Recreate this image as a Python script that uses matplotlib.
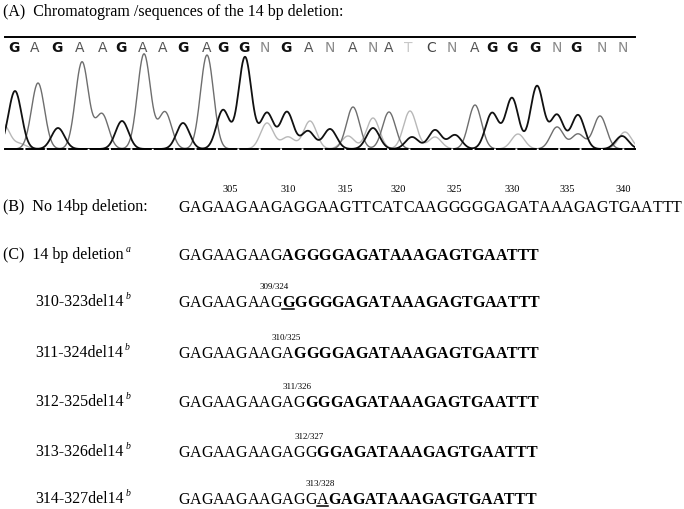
import numpy as np
import matplotlib.pyplot as plt
from matplotlib.font_manager import FontProperties, findfont, get_font

W, H = 684, 510

# ---- panel A: base calls and peak tables ----
base_calls = list("GAGAAGAAGAGGNGANANATCNAGGGNGNN")
base_x = [14, 35, 57, 80, 103, 121, 143, 163, 183, 207, 223, 244, 265, 286, 309,
          330, 353, 373, 389, 408, 431, 452, 475, 492, 512, 535, 557, 576, 602, 623]

# G channel (black trace)
g_peak_x = [15, 58, 122, 183, 223, 245, 267, 287, 308, 330, 373, 412, 435, 455,
            492, 512, 537, 557, 578, 622]
g_peak_h = [58, 21, 28, 26, 39, 92, 36, 37, 18, 20, 21, 12, 19, 14,
            36, 51, 63, 34, 34, 13]
# A channel (grey trace)
a_peak_x = [38, 82, 102, 144, 165, 207, 353, 389, 475, 557, 578, 600]
a_peak_h = [66, 87, 35, 95, 37, 94, 42, 37, 44, 22, 15, 33]
# C / T channels (light trace)
ct_peak_x = [3, 20, 267, 288, 310, 348, 373, 410, 435, 518, 625]
ct_peak_h = [25, 5, 26, 12, 28, 13, 31, 38, 12, 15, 17]

# ---- panel B: wild type sequence ----
wt_seq = "GAGAAGAAGAGGAAGTTCATCAAGGGGGAGATAAAGAGTGAATTT"
wt_start = 301
wt_ticks = [305, 310, 315, 320, 325, 330, 335, 340]

# ---- panel C: deletion alleles ----
del_labels = ["14 bp deletion", "310-323del14", "311-324del14",
              "312-325del14", "313-326del14", "314-327del14"]
del_notes = ["a", "b", "b", "b", "b", "b"]
del_seqs = ["GAGAAGAAGAGGGGAGATAAAGAGTGAATTT",
            "GAGAAGAAGGGGGGAGATAAAGAGTGAATTT",
            "GAGAAGAAGAGGGGAGATAAAGAGTGAATTT",
            "GAGAAGAAGAGGGGAGATAAAGAGTGAATTT",
            "GAGAAGAAGAGGGGAGATAAAGAGTGAATTT",
            "GAGAAGAAGAGGAGAGATAAAGAGTGAATTT"]
bold_from = [9, 9, 10, 11, 12, 13]
underline_at = [None, 9, None, None, None, 12]
site_pos = [None, 309, 310, 311, 312, 313]

SERIF = "Liberation Serif"
SEQ_PT = 11.5


def advance(ch, weight, size):
    font = get_font(findfont(FontProperties(family=SERIF, weight=weight)))
    font.set_size(size, 100)
    return font.load_char(ord(ch)).linearHoriAdvance / 65536


def draw_sequence(ax, x0, y, seq, bold_start=None, underline=None):
    # place the bases one by one so that each base centre is known
    centres = []
    x = x0
    base = y + 0.33 * SEQ_PT * 100 / 72
    for i, ch in enumerate(seq):
        weight = "bold" if bold_start is not None and i >= bold_start else "normal"
        w = advance(ch, weight, SEQ_PT)
        ax.text(x + w / 2, base, ch, ha="center", va="baseline",
                family=SERIF, weight=weight, fontsize=SEQ_PT)
        if i == underline:
            ax.plot([x + 0.5, x + w - 0.5], [base + 2.5, base + 2.5], color="black", lw=1.1)
        centres.append(x + w / 2)
        x += w
    return centres


fig = plt.figure(figsize=(W / 100, H / 100), dpi=100)

# chromatogram axes: baseline at y=150 px, top rule at y=38 px
ax_c = fig.add_axes([5 / W, 1 - 150 / H, 630 / W, 112 / H])
scan = np.arange(0, 636, 0.5)
sigma = 6.5


def trace(px, ph):
    y = np.zeros_like(scan)
    for p, h in zip(px, ph):
        y += h * np.exp(-(scan - p) ** 2 / (2 * sigma ** 2))
    return y


ax_c.plot(scan, trace(ct_peak_x, ct_peak_h), color="#b8b8b8", lw=1.0)
ax_c.plot(scan, trace(a_peak_x, a_peak_h), color="#6e6e6e", lw=1.0)
ax_c.plot(scan, trace(g_peak_x, g_peak_h), color="#111111", lw=1.3)

call_colors = {"G": "#111111", "A": "#555555", "N": "#8a8a8a", "T": "#c8c8c8", "C": "#444444"}
for b, bx in zip(base_calls, base_x):
    ax_c.text(bx, 102, b, ha="center", va="center", fontsize=10,
              family=["Liberation Sans Narrow", "DejaVu Sans"],
              weight="bold" if b == "G" else "normal", color=call_colors[b])

ax_c.set_xlim(5, 635)
ax_c.set_ylim(0, 112)
ax_c.set_xticks([])
ax_c.set_yticks([])
for s in ["left", "right"]:
    ax_c.spines[s].set_visible(False)
ax_c.spines["top"].set_linewidth(1.4)
ax_c.spines["bottom"].set_linewidth(1.4)
ax_c.spines["bottom"].set_linestyle((0, (9, 2)))
ax_c.patch.set_alpha(0)

# text axes in pixel coordinates
ax = fig.add_axes([0, 0, 1, 1])
ax.set_xlim(0, W)
ax.set_ylim(H, 0)
ax.axis("off")
ax.patch.set_alpha(0)

ax.text(3, 12, "(A)  Chromatogram /sequences of the 14 bp deletion:", ha="left",
        va="center", family=SERIF, fontsize=SEQ_PT)

seq_x = 178
y_b = 207
ax.text(3, y_b, "(B)  No 14bp deletion:", ha="left", va="center",
        family=SERIF, fontsize=SEQ_PT)
centres = draw_sequence(ax, seq_x, y_b, wt_seq)
for t in wt_ticks:
    ax.text(centres[t - wt_start], y_b - 17, str(t), ha="center", va="center",
            family=SERIF, fontsize=7.5)

row_y = [255, 302, 353, 402, 452, 499]
for i, (lab, note, seq) in enumerate(zip(del_labels, del_notes, del_seqs)):
    y = row_y[i]
    lx = 3 if i == 0 else 35
    text = "(C)  " + lab if i == 0 else lab
    t = ax.text(lx, y, text, ha="left", va="center", family=SERIF, fontsize=SEQ_PT)
    bb = t.get_window_extent(fig.canvas.get_renderer())
    ax.text(bb.x1 + 2, y - 5, note, ha="left", va="center", family=SERIF,
            style="italic", fontsize=7)
    centres = draw_sequence(ax, seq_x, y, seq, bold_from[i], underline_at[i])
    if site_pos[i] is not None:
        p = site_pos[i]
        ax.text(centres[p - wt_start] - 2, y - 15, f"{p}/{p + 15}", ha="center",
                va="center", family=SERIF, fontsize=6.5)

fig.savefig("out.png", dpi=100)
